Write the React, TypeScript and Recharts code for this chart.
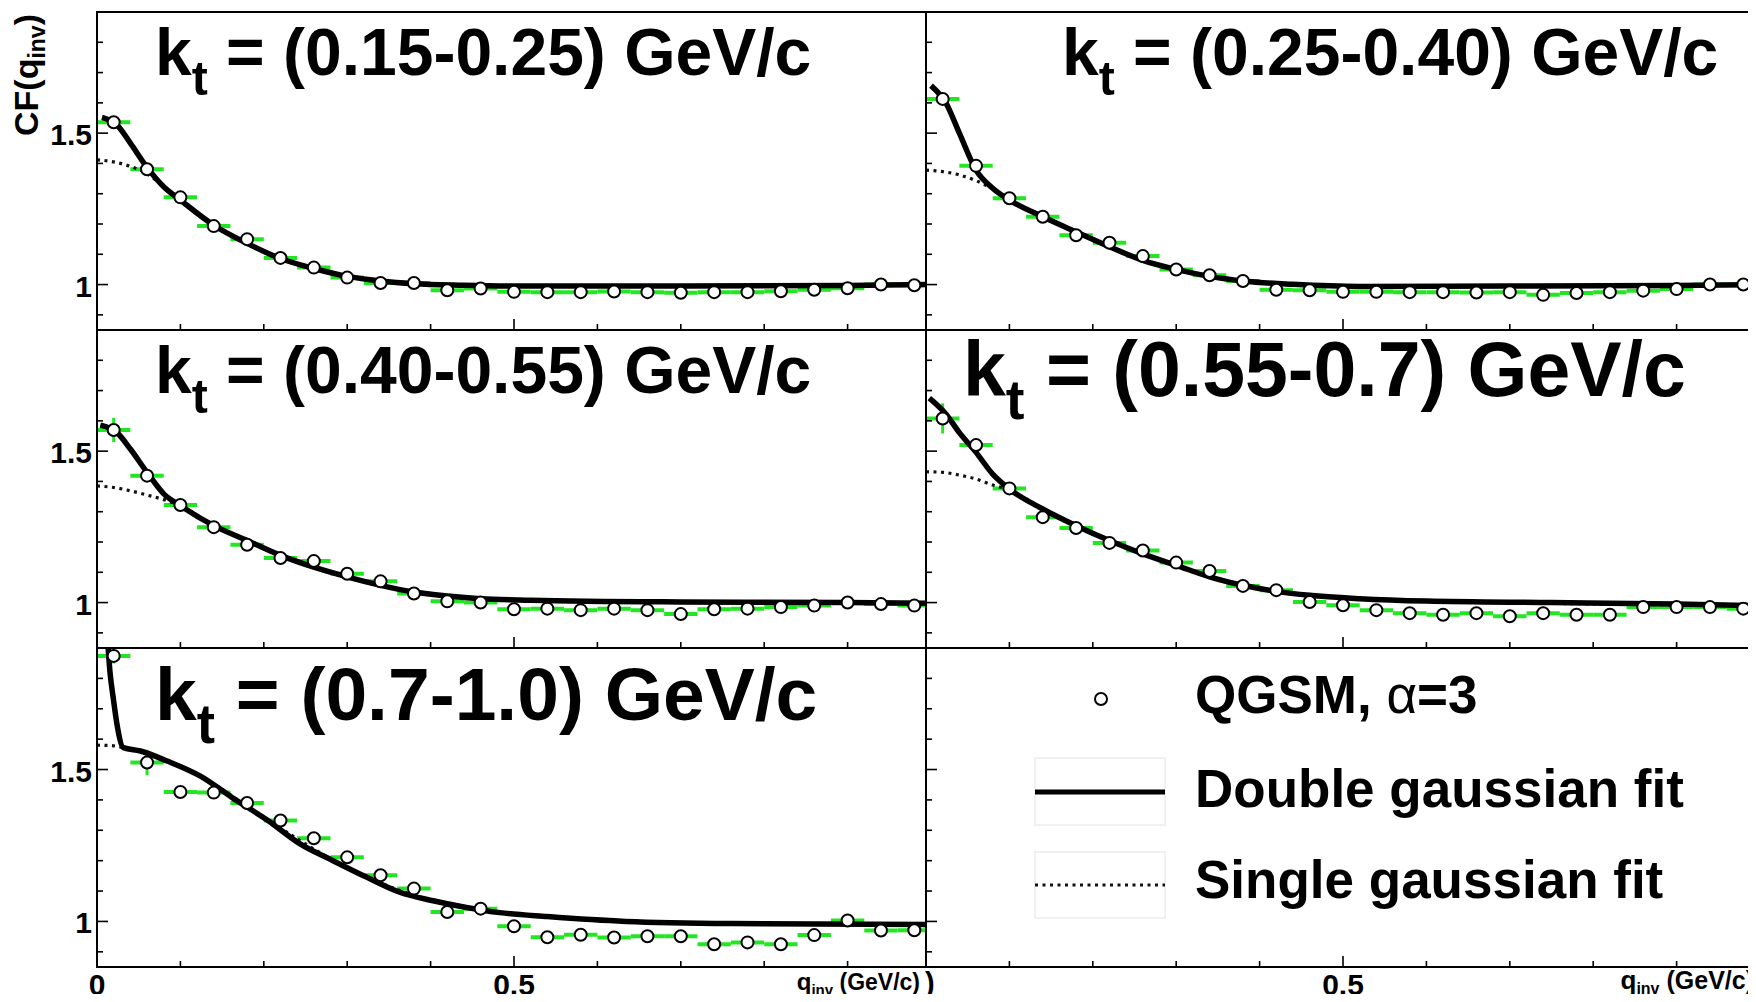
import React from 'react'
import { ComposedChart, Scatter, Line, XAxis, YAxis, ErrorBar } from 'recharts'

const FONT = '"Liberation Sans", Arial, Helvetica, sans-serif'
const GREEN = '#22e622'

// q_inv bin centres (GeV/c), bins are 0.04 wide
const qBins = [0.02, 0.06, 0.1, 0.14, 0.18, 0.22, 0.26, 0.3, 0.34, 0.38, 0.42, 0.46, 0.5,
  0.54, 0.58, 0.62, 0.66, 0.7, 0.74, 0.78, 0.82, 0.86, 0.9, 0.94, 0.98]
const binHalfWidth = 0.02

// QGSM, alpha=3 : CF(q_inv) per kt bin
const cfKt1 = [1.536, 1.381, 1.288, 1.193, 1.15, 1.088, 1.056, 1.023, 1.005, 1.005, 0.981, 0.987, 0.976,
  0.975, 0.975, 0.977, 0.975, 0.973, 0.975, 0.975, 0.978, 0.983, 0.988, 1.0, 0.998]
const cfKt2 = [1.613, 1.392, 1.285, 1.224, 1.163, 1.138, 1.094, 1.05, 1.031, 1.012, 0.983, 0.981, 0.976,
  0.976, 0.975, 0.975, 0.974, 0.975, 0.966, 0.972, 0.975, 0.98, 0.985, 1.0, 1.0]
const cfKt3 = [1.57, 1.419, 1.322, 1.249, 1.191, 1.147, 1.137, 1.095, 1.07, 1.03, 1.004, 1.0, 0.978,
  0.98, 0.975, 0.98, 0.975, 0.962, 0.978, 0.98, 0.985, 0.99, 1.0, 0.995, 0.99]
const cfKt4 = [1.608, 1.52, 1.377, 1.282, 1.246, 1.197, 1.172, 1.132, 1.104, 1.055, 1.041, 1.002, 0.991,
  0.975, 0.965, 0.96, 0.965, 0.955, 0.965, 0.96, 0.96, 0.985, 0.985, 0.985, 0.98]
const cfKt5 = [1.874, 1.523, 1.426, 1.424, 1.39, 1.332, 1.274, 1.211, 1.152, 1.108, 1.031, 1.042, 0.984,
  0.948, 0.956, 0.947, 0.951, 0.951, 0.925, 0.931, 0.925, 0.955, 1.003, 0.97, 0.971]

// errors on CF
const errKt1 = [0.015, 0.01, 0.008, 0.007, 0.006, 0.006, 0.005, 0.005, 0.005, 0.005, 0.005, 0.005, 0.005,
  0.005, 0.005, 0.005, 0.005, 0.005, 0.005, 0.005, 0.005, 0.005, 0.005, 0.005, 0.005]
const errKt2 = [0.015, 0.01, 0.008, 0.007, 0.006, 0.006, 0.005, 0.005, 0.005, 0.005, 0.005, 0.005, 0.005,
  0.005, 0.005, 0.005, 0.005, 0.005, 0.005, 0.005, 0.005, 0.005, 0.005, 0.005, 0.005]
const errKt3 = [0.04, 0.012, 0.008, 0.007, 0.006, 0.006, 0.005, 0.005, 0.005, 0.005, 0.005, 0.005, 0.005,
  0.005, 0.005, 0.005, 0.005, 0.005, 0.005, 0.005, 0.005, 0.005, 0.005, 0.005, 0.005]
const errKt4 = [0.05, 0.02, 0.012, 0.01, 0.008, 0.007, 0.006, 0.006, 0.005, 0.005, 0.005, 0.005, 0.005,
  0.005, 0.005, 0.005, 0.005, 0.005, 0.005, 0.005, 0.005, 0.005, 0.005, 0.005, 0.005]
const errKt5 = [0.025, 0.042, 0.015, 0.012, 0.01, 0.008, 0.007, 0.007, 0.006, 0.006, 0.006, 0.006, 0.006,
  0.006, 0.006, 0.006, 0.006, 0.006, 0.006, 0.006, 0.006, 0.006, 0.006, 0.006, 0.006]

// double gaussian fit [q, CF]
const dblKt1 = [[0.006, 1.552], [0.024, 1.527], [0.04, 1.467], [0.06, 1.387], [0.08, 1.323], [0.1, 1.279],
  [0.14, 1.196], [0.18, 1.136], [0.22, 1.086], [0.26, 1.053], [0.3, 1.027], [0.34, 1.012], [0.38, 1.003],
  [0.44, 0.998], [0.52, 0.995], [0.7, 0.995], [0.9, 0.997], [0.994, 1.0]]
const dblKt2 = [[0.006, 1.657], [0.024, 1.599], [0.04, 1.5], [0.06, 1.378], [0.08, 1.318], [0.1, 1.279],
  [0.14, 1.224], [0.18, 1.174], [0.22, 1.125], [0.26, 1.08], [0.3, 1.05], [0.34, 1.027], [0.38, 1.012],
  [0.44, 1.001], [0.52, 0.994], [0.7, 0.995], [0.9, 0.997], [0.994, 1.0]]
const dblKt3 = [[0.004, 1.586], [0.024, 1.561], [0.04, 1.507], [0.06, 1.43], [0.08, 1.359], [0.1, 1.32],
  [0.14, 1.254], [0.18, 1.205], [0.22, 1.156], [0.26, 1.117], [0.3, 1.085], [0.34, 1.057], [0.38, 1.035],
  [0.42, 1.022], [0.46, 1.013], [0.52, 1.008], [0.7, 1.002], [0.9, 1.0], [0.994, 0.998]]
const dblKt4 = [[0.004, 1.675], [0.024, 1.622], [0.04, 1.561], [0.06, 1.496], [0.08, 1.424], [0.1, 1.375],
  [0.14, 1.309], [0.18, 1.254], [0.22, 1.205], [0.26, 1.161], [0.3, 1.123], [0.34, 1.085], [0.38, 1.057],
  [0.42, 1.037], [0.46, 1.024], [0.52, 1.013], [0.6, 1.005], [0.75, 1.0], [0.9, 0.995], [0.994, 0.99]]
const dblKt5 = [[0.011, 2.0], [0.0156, 1.82], [0.0196, 1.733], [0.0236, 1.655], [0.0316, 1.572], [0.052, 1.561],
  [0.084, 1.528], [0.124, 1.478], [0.163, 1.406], [0.204, 1.334], [0.243, 1.256], [0.283, 1.2], [0.323, 1.146],
  [0.363, 1.096], [0.403, 1.068], [0.443, 1.046], [0.483, 1.029], [0.54, 1.016], [0.634, 1.0], [0.761, 0.993],
  [0.994, 0.99]]

// single gaussian fit [q, CF]
const sglKt1 = [[0, 1.412], [0.02, 1.405], [0.04, 1.39], [0.06, 1.366], [0.08, 1.323], [0.1, 1.279],
  [0.14, 1.196], [0.18, 1.136], [0.26, 1.053], [0.38, 1.003], [0.52, 0.995], [0.994, 1.0]]
const sglKt2 = [[0, 1.378], [0.02, 1.373], [0.04, 1.362], [0.06, 1.343], [0.08, 1.316], [0.1, 1.279],
  [0.14, 1.224], [0.18, 1.174], [0.26, 1.08], [0.38, 1.012], [0.52, 0.994], [0.994, 1.0]]
const sglKt3 = [[0, 1.385], [0.02, 1.38], [0.04, 1.369], [0.06, 1.355], [0.08, 1.34], [0.1, 1.32],
  [0.14, 1.254], [0.18, 1.205], [0.26, 1.117], [0.38, 1.035], [0.52, 1.008], [0.994, 0.998]]
const sglKt4 = [[0, 1.432], [0.02, 1.43], [0.04, 1.421], [0.06, 1.408], [0.08, 1.388], [0.1, 1.372],
  [0.14, 1.309], [0.18, 1.254], [0.26, 1.161], [0.38, 1.057], [0.52, 1.013], [0.994, 0.99]]
const sglKt5 = [[0, 1.58], [0.016, 1.579], [0.0316, 1.572], [0.052, 1.561], [0.084, 1.528], [0.124, 1.478],
  [0.204, 1.334], [0.323, 1.146], [0.483, 1.029], [0.761, 0.993], [0.994, 0.99]]

const xTicks = [0, 0.1, 0.2, 0.3, 0.4, 0.5, 0.6, 0.7, 0.8, 0.9]
const yTicks = [0.9, 1, 1.1, 1.2, 1.3, 1.4, 1.5, 1.6, 1.7, 1.8]
const xTickLabelsLeft = [0, 0.5]
const xTickLabelsRight = [0.5]
const yTickLabels = [1, 1.5]

const ktRanges = ['(0.15-0.25)', '(0.25-0.40)', '(0.40-0.55)', '(0.55-0.7)', '(0.7-1.0)']

const panels = [
  { cf: cfKt1, err: errKt1, dbl: dblKt1, sgl: sglKt1, row: 0, col: 0, kt: 0, tx: 155, ty: 75, fs: 66 },
  { cf: cfKt2, err: errKt2, dbl: dblKt2, sgl: sglKt2, row: 0, col: 1, kt: 1, tx: 1062, ty: 75, fs: 66 },
  { cf: cfKt3, err: errKt3, dbl: dblKt3, sgl: sglKt3, row: 1, col: 0, kt: 2, tx: 155, ty: 393, fs: 66 },
  { cf: cfKt4, err: errKt4, dbl: dblKt4, sgl: sglKt4, row: 1, col: 1, kt: 3, tx: 963, ty: 396, fs: 77 },
  { cf: cfKt5, err: errKt5, dbl: dblKt5, sgl: sglKt5, row: 2, col: 0, kt: 4, tx: 155, ty: 720, fs: 75 },
  { cf: null, err: null, dbl: null, sgl: null, row: 2, col: 1, kt: -1, tx: 0, ty: 0, fs: 0 },
]

const ROW_TOP = [12, 330, 648]
const ROW_H = [318, 318, 319]
const COL_LEFT = [97, 926]
const PLOT_W = 829
const LEFT_M = 96
const BOTTOM_M = 34

// ticks point into the frame; the along-axis coordinate comes from recharts
const xTick = (labels: number[] | null, plotBottom: number) => (props: any) => {
  const { x, payload } = props
  const v = payload.value
  const len = v === 0.5 ? 11 : 6
  return (
    <g>
      <line x1={x} x2={x} y1={plotBottom} y2={plotBottom - len} stroke="#000" strokeWidth={1.6} />
      {labels && labels.includes(v) && (
        <text x={x} y={plotBottom + 28} textAnchor="middle" fontSize={30} fontWeight="bold" fontFamily={FONT} fill="#000">
          {v}
        </text>
      )}
    </g>
  )
}

const yTick = (labels: boolean, plotLeft: number) => (props: any) => {
  const { y, payload } = props
  const v = payload.value
  const major = yTickLabels.includes(v)
  return (
    <g>
      <line x1={plotLeft} x2={plotLeft + (major ? 11 : 6)} y1={y} y2={y} stroke="#000" strokeWidth={1.6} />
      {labels && major && (
        <text x={plotLeft - 5} y={y + 12} textAnchor="end" fontSize={30} fontWeight="bold" fontFamily={FONT} fill="#000">
          {v}
        </text>
      )}
    </g>
  )
}

const openCircle = (props: any) => (
  <circle cx={props.cx} cy={props.cy} r={6} fill="#fff" stroke="#000" strokeWidth={2} />
)

function Panel({ p }: { p: (typeof panels)[number] }) {
  const isLeft = p.col === 0
  const isBottom = p.row === 2
  // axes are 1px wide/high so they still render their ticks
  const plotLeft = (isLeft ? LEFT_M : 0) + 1
  const plotBottom = ROW_H[p.row]
  const width = plotLeft + PLOT_W
  const height = plotBottom + 1 + (isBottom ? BOTTOM_M : 0)
  const xLabels = isBottom ? (isLeft ? xTickLabelsLeft : xTickLabelsRight) : null
  const pts = p.cf ? qBins.map((q, i) => ({ q, cf: p.cf![i], xe: binHalfWidth, ye: p.err![i] })) : []
  const dbl = p.dbl ? p.dbl.map(([q, cf]) => ({ q, cf })) : []
  const sgl = p.sgl ? p.sgl.map(([q, cf]) => ({ q, cf })) : []
  return (
    <div style={{ position: 'absolute', left: isLeft ? 0 : COL_LEFT[1] - 1, top: ROW_TOP[p.row] }}>
      <ComposedChart
        width={width}
        height={height}
        margin={{ top: 0, right: 0, bottom: isBottom ? BOTTOM_M : 0, left: isLeft ? LEFT_M : 0 }}
      >
        <XAxis
          dataKey="q"
          type="number"
          domain={[0, 0.994]}
          allowDataOverflow
          ticks={xTicks}
          interval={0}
          height={1}
          tickSize={0}
          tickMargin={0}
          axisLine={false}
          tickLine={false}
          tick={xTick(xLabels, plotBottom)}
        />
        <YAxis
          dataKey="cf"
          type="number"
          domain={[0.85, 1.9]}
          allowDataOverflow
          ticks={yTicks}
          interval={0}
          width={1}
          tickSize={0}
          tickMargin={0}
          axisLine={false}
          tickLine={false}
          tick={yTick(isLeft, plotLeft)}
        />
        {p.cf && (
          <Scatter data={pts} dataKey="cf" shape={openCircle} isAnimationActive={false}>
            <ErrorBar dataKey="xe" direction="x" width={0} stroke={GREEN} strokeWidth={4} isAnimationActive={false} />
            <ErrorBar dataKey="ye" direction="y" width={0} stroke={GREEN} strokeWidth={3} isAnimationActive={false} />
          </Scatter>
        )}
        {p.sgl && (
          <Line data={sgl} dataKey="cf" type="monotone" stroke="#111" strokeWidth={3.2} strokeDasharray="3 4.5"
            dot={false} activeDot={false} isAnimationActive={false} />
        )}
        {p.dbl && (
          <Line data={dbl} dataKey="cf" type="monotone" stroke="#000" strokeWidth={5.5}
            dot={false} activeDot={false} isAnimationActive={false} />
        )}
      </ComposedChart>
    </div>
  )
}

export default function App() {
  return (
    <div style={{ position: 'relative', width: 1756, height: 1002, margin: -8, background: '#fff', overflow: 'hidden', fontFamily: FONT }}>
      <div style={{ position: 'absolute', left: 0, top: 0, width: 6, height: 1002,
        background: 'linear-gradient(to right, #d9b262, #efd99a 60%, #f6e9c2)' }} />
      {panels.map((p, i) => <Panel key={i} p={p} />)}
      <svg width={1756} height={1002} style={{ position: 'absolute', left: 0, top: 0, pointerEvents: 'none' }}>
        {panels.filter((p) => p.kt >= 0).map((p, i) => (
          <text key={i} x={p.tx} y={p.ty} fontSize={p.fs} fontWeight="bold" fontFamily={FONT} fill="#000">
            k<tspan dy={p.fs * 0.3} fontSize={p.fs * 0.73}>t</tspan>
            <tspan dy={-p.fs * 0.3} fontSize={p.fs}>{` = ${ktRanges[p.kt]} GeV/c`}</tspan>
          </text>
        ))}
        <text transform="translate(38,75) rotate(-90)" textAnchor="middle" fontSize={34} fontWeight="bold" fontFamily={FONT}>
          CF(q<tspan dy={7} fontSize={23}>inv</tspan><tspan dy={-7}>)</tspan>
        </text>
        <text x={920} y={990} textAnchor="end" fontWeight="bold" fontFamily={FONT} fontSize={24}>
          q<tspan dy={5} fontSize={15}>inv</tspan><tspan dy={-5} fontSize={23}> (GeV/c)</tspan>
        </text>
        <text x={925} y={993} fontWeight="bold" fontFamily={FONT} fontSize={29}>)</text>
        <text x={1754} y={989} textAnchor="end" fontWeight="bold" fontFamily={FONT} fontSize={26}>
          q<tspan dy={5} fontSize={16}>inv</tspan><tspan dy={-5} fontSize={25}> (GeV/c)</tspan>
        </text>
        {/* legend */}
        <circle cx={1101} cy={699} r={6} fill="#fff" stroke="#000" strokeWidth={2} />
        <text x={1195} y={713} fontSize={53} fontWeight="bold" fontFamily={FONT}>
          QGSM, <tspan fontWeight="normal">α</tspan>=3
        </text>
        <rect x={1035} y={758} width={130} height={67} fill="none" stroke="#ececec" strokeWidth={1.5} />
        <line x1={1035} x2={1165} y1={792} y2={792} stroke="#000" strokeWidth={5} />
        <text x={1195} y={807} fontSize={53} fontWeight="bold" fontFamily={FONT}>Double gaussian fit</text>
        <rect x={1035} y={852} width={130} height={66} fill="none" stroke="#ececec" strokeWidth={1.5} />
        <line x1={1035} x2={1165} y1={885} y2={885} stroke="#111" strokeWidth={3.2} strokeDasharray="3 4.5" />
        <text x={1195} y={898} fontSize={53} fontWeight="bold" fontFamily={FONT}>Single gaussian fit</text>
      </svg>
      {panels.map((p, i) => (
        <div key={'f' + i} style={{ position: 'absolute', boxSizing: 'border-box', left: COL_LEFT[p.col] - 1,
          top: ROW_TOP[p.row] - 1, width: PLOT_W + 2, height: ROW_H[p.row] + 2, border: '2px solid #000', pointerEvents: 'none' }} />
      ))}
    </div>
  )
}
